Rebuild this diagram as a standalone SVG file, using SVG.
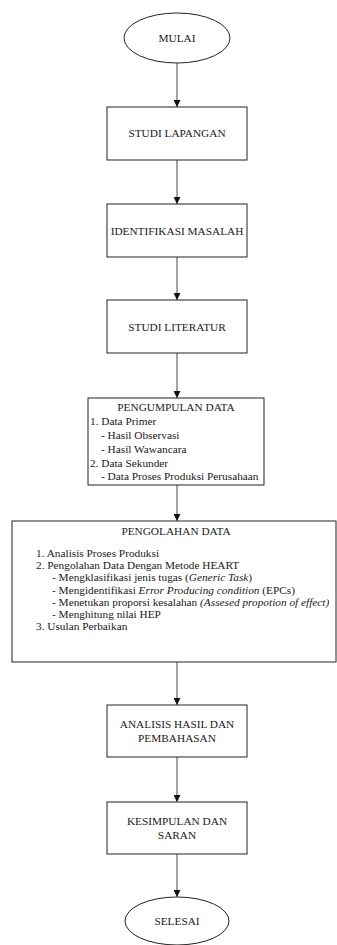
<svg xmlns="http://www.w3.org/2000/svg" width="337" height="945" viewBox="0 0 337 945">
<defs>
<style>
.n{fill:#fff;stroke:#222;stroke-width:1}
.t{font-family:"Liberation Serif","Times New Roman","DejaVu Serif",serif;font-size:11.3px;fill:#1a1a1a}
.c{text-anchor:middle}
.e{stroke:#666;stroke-width:1.2;fill:none}
.i{font-style:italic}
</style>
<marker id="ah" viewBox="0 0 8 8" refX="8" refY="4" markerWidth="7" markerHeight="7" markerUnits="userSpaceOnUse" orient="auto">
<path d="M0,0 L8,4 L0,8 Z" fill="#111"/>
</marker>
</defs>
<rect width="337" height="945" fill="#fff"/>
<g id="connectors">
<line class="e" x1="177" y1="63" x2="177" y2="107" marker-end="url(#ah)"/>
<line class="e" x1="177" y1="160" x2="177" y2="204" marker-end="url(#ah)"/>
<line class="e" x1="177" y1="257" x2="177" y2="300" marker-end="url(#ah)"/>
<line class="e" x1="177" y1="353" x2="177" y2="398" marker-end="url(#ah)"/>
<line class="e" x1="177" y1="485" x2="177" y2="521" marker-end="url(#ah)"/>
<line class="e" x1="177" y1="662" x2="177" y2="705" marker-end="url(#ah)"/>
<line class="e" x1="177" y1="757" x2="177" y2="802" marker-end="url(#ah)"/>
<line class="e" x1="177" y1="854" x2="177" y2="897" marker-end="url(#ah)"/>
</g>
<g id="mulai">
<ellipse class="n" cx="177" cy="38" rx="53" ry="25"/>
<text class="t c" x="177" y="42">MULAI</text>
</g>
<g id="studi-lapangan">
<rect class="n" x="107" y="107" width="140" height="53"/>
<text class="t c" x="177" y="137">STUDI LAPANGAN</text>
</g>
<g id="identifikasi-masalah">
<rect class="n" x="107" y="204" width="140" height="53"/>
<text class="t c" x="177" y="235">IDENTIFIKASI MASALAH</text>
</g>
<g id="studi-literatur">
<rect class="n" x="107" y="300" width="140" height="53"/>
<text class="t c" x="177" y="331">STUDI LITERATUR</text>
</g>
<g id="pengumpulan-data">
<rect class="n" x="88" y="398" width="176" height="87"/>
<text class="t c" x="176" y="411">PENGUMPULAN DATA</text>
<text class="t" x="90" y="425">1. Data Primer</text>
<text class="t" x="101" y="439">- Hasil Observasi</text>
<text class="t" x="101" y="453">- Hasil Wawancara</text>
<text class="t" x="90" y="467">2. Data Sekunder</text>
<text class="t" x="101" y="480">- Data Proses Produksi Perusahaan</text>
</g>
<g id="pengolahan-data">
<rect class="n" x="12" y="521" width="324" height="141"/>
<text class="t c" x="176" y="535">PENGOLAHAN DATA</text>
<text class="t" x="36" y="557">1. Analisis Proses Produksi</text>
<text class="t" x="36" y="569">2. Pengolahan Data Dengan Metode HEART</text>
<text class="t" x="52" y="581">- Mengklasifikasi jenis tugas (<tspan class="i">Generic Task</tspan>)</text>
<text class="t" x="52" y="594">- Mengidentifikasi <tspan class="i">Error Producing condition</tspan> (EPCs)</text>
<text class="t" x="52" y="606">- Menetukan proporsi kesalahan <tspan class="i">(Assesed propotion of effect)</tspan></text>
<text class="t" x="52" y="618">- Menghitung nilai HEP</text>
<text class="t" x="36" y="630">3. Usulan Perbaikan</text>
</g>
<g id="analisis-hasil">
<rect class="n" x="107" y="705" width="140" height="52"/>
<text class="t c" x="177" y="728">ANALISIS HASIL DAN</text>
<text class="t c" x="177" y="742">PEMBAHASAN</text>
</g>
<g id="kesimpulan">
<rect class="n" x="107" y="802" width="140" height="52"/>
<text class="t c" x="177" y="825">KESIMPULAN DAN</text>
<text class="t c" x="177" y="839">SARAN</text>
</g>
<g id="selesai">
<ellipse class="n" cx="177" cy="921" rx="52" ry="24"/>
<text class="t c" x="177" y="925">SELESAI</text>
</g>
</svg>
